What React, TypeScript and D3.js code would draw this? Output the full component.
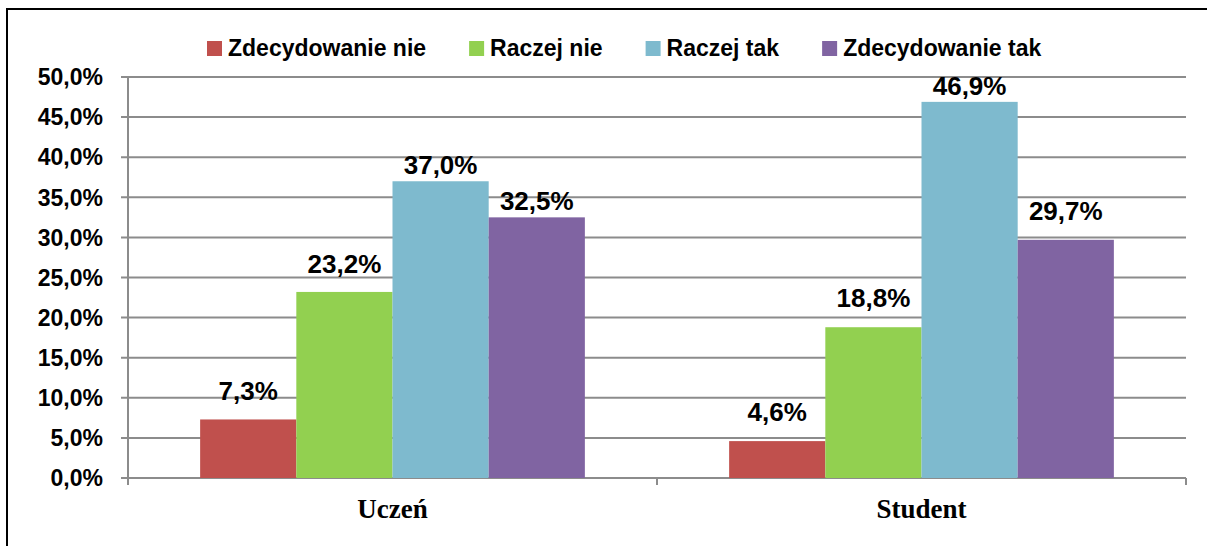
import React, { useEffect, useRef } from "react";
import * as d3 from "d3";

const categories = ["Uczeń", "Student"];
const seriesNames = ["Zdecydowanie nie", "Raczej nie", "Raczej tak", "Zdecydowanie tak"];
const seriesColors = ["#C0504D", "#92D050", "#7EBACE", "#8064A2"];
const zdecydowanieNie = [7.3, 4.6];
const raczejNie = [23.2, 18.8];
const raczejTak = [37.0, 46.9];
const zdecydowanieTak = [32.5, 29.7];
const yTicks = [0, 5, 10, 15, 20, 25, 30, 35, 40, 45, 50];

// layout: gap (px) between bar top and label baseline, per series [Uczeń, Student]
const labelGaps = [[19, 20], [19, 20], [7, 7], [7, 20]];

const W = 1207, H = 546;
const FONT = "'Liberation Sans', Arial, sans-serif";

export default function App() {
  const ref = useRef<SVGSVGElement>(null);
  useEffect(() => {
    const svg = d3.select(ref.current);
    svg.selectAll("*").remove();
    const values = [zdecydowanieNie, raczejNie, raczejTak, zdecydowanieTak];
    const left = 128, right = 1186, top = 77, bottom = 478;

    // outer border
    svg.append("path").attr("d", `M7,${H + 5} L7,9 L${W + 5},9`).attr("fill", "none").attr("stroke", "#000").attr("stroke-width", 2);

    const y = d3.scaleLinear().domain([0, 50]).range([bottom, top]);
    const x0 = d3.scaleBand().domain(categories).range([left, right]).paddingInner(0).paddingOuter(0);
    const groupW = x0.bandwidth();
    const barW = groupW / (4 + 1.5);
    const x1 = d3.scaleBand().domain(seriesNames).range([barW * 0.75, groupW - barW * 0.75]).padding(0);

    yTicks.forEach((t) => {
      svg.append("line").attr("x1", left - 7).attr("x2", right).attr("y1", y(t)).attr("y2", y(t))
        .attr("stroke", "#8c8c8c").attr("stroke-width", 2);
      svg.append("text").attr("x", 103).attr("y", y(t)).attr("dy", "0.36em").attr("text-anchor", "end")
        .attr("font-family", FONT).attr("font-weight", "bold").attr("font-size", 23).attr("fill", "#000")
        .text(t.toFixed(1).replace(".", ",") + "%");
    });
    // axis lines
    svg.append("line").attr("x1", left).attr("x2", left).attr("y1", top).attr("y2", bottom + 7).attr("stroke", "#8c8c8c").attr("stroke-width", 2);
    const xt = [left, ...categories.map((c) => (x0(c) as number) + groupW)];
    xt.forEach((xx) => {
      svg.append("line").attr("x1", xx).attr("x2", xx).attr("y1", bottom).attr("y2", bottom + 7).attr("stroke", "#8c8c8c").attr("stroke-width", 2);
    });

    // bars
    categories.forEach((c, ci) => {
      seriesNames.forEach((s, si) => {
        const v = values[si][ci];
        const bx = (x0(c) as number) + (x1(s) as number);
        svg.append("rect").attr("x", bx).attr("y", y(v)).attr("width", x1.bandwidth()).attr("height", y(0) - y(v))
          .attr("fill", seriesColors[si]);
        svg.append("text").attr("x", bx + x1.bandwidth() / 2).attr("y", y(v) - labelGaps[si][ci]).attr("text-anchor", "middle")
          .attr("font-family", FONT).attr("font-weight", "bold").attr("font-size", 26).attr("fill", "#000")
          .text(v.toFixed(1).replace(".", ",") + "%");
      });
      svg.append("text").attr("x", (x0(c) as number) + groupW / 2).attr("y", 518).attr("text-anchor", "middle")
        .attr("font-family", "'Liberation Serif', 'Times New Roman', serif").attr("font-weight", "bold").attr("font-size", 27)
        .attr("fill", "#000").text(c);
    });

    // legend
    let lx = 207;
    seriesNames.forEach((s, si) => {
      svg.append("rect").attr("x", lx).attr("y", 41).attr("width", 15).attr("height", 15).attr("fill", seriesColors[si]);
      const t = svg.append("text").attr("x", lx + 21).attr("y", 48).attr("dy", "0.36em")
        .attr("font-family", FONT).attr("font-weight", "bold").attr("font-size", 23).attr("fill", "#000").text(s);
      const w = (t.node() as SVGTextElement).getComputedTextLength();
      lx = lx + 21 + w + 43;
    });
  }, []);
  return (
    <svg ref={ref} width={W} height={H} style={{ position: "absolute", left: 0, top: 0, background: "#fff" }} />
  );
}
